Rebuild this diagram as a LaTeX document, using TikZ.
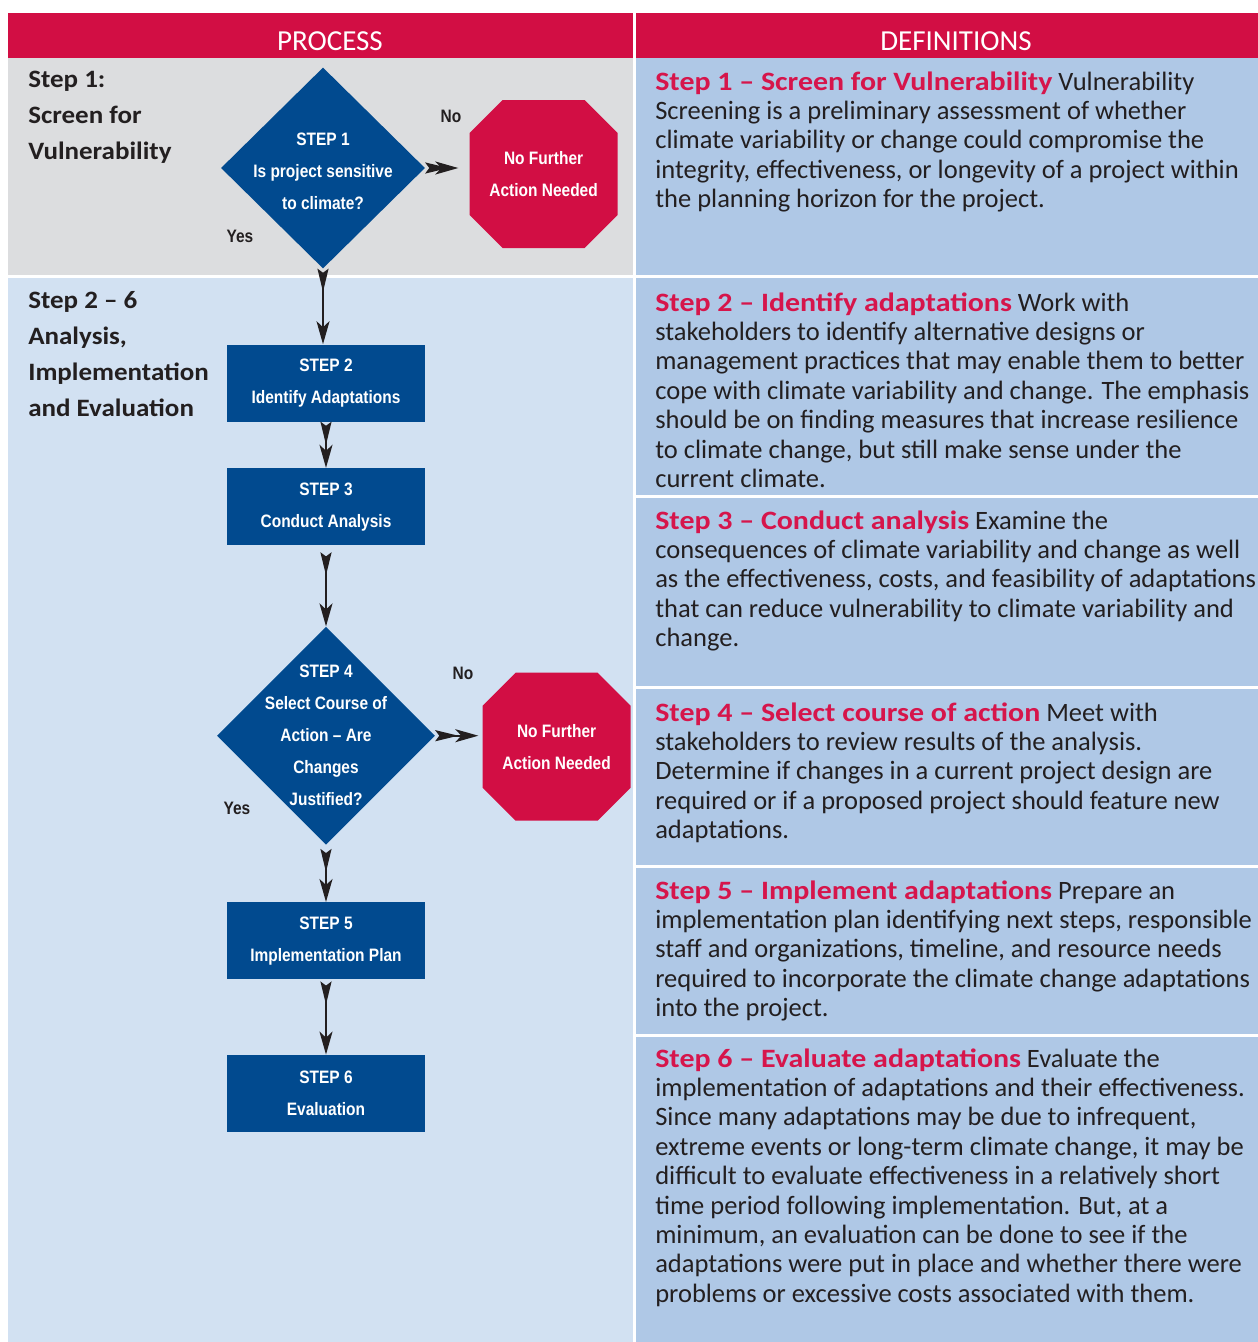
\documentclass[tikz,border=0pt]{standalone}
\usepackage{fontspec}
\setmainfont{Carlito}
\newfontfamily\flowfont[FakeStretch=0.86]{Liberation Sans}
\newfontfamily\widefont[FakeStretch=1.13]{Carlito}
\newfontfamily\phasefont[FakeStretch=1.08]{Carlito}
\usetikzlibrary{shapes.geometric,arrows.meta,positioning}

\definecolor{headred}{HTML}{D20E44}
\definecolor{stepblue}{HTML}{014A8F}
\definecolor{greyrow}{HTML}{DCDDDF}
\definecolor{paleblue}{HTML}{D2E1F2}
\definecolor{defblue}{HTML}{AFC8E6}
\definecolor{inkgrey}{HTML}{231F20}
\definecolor{steptitle}{HTML}{D6154B}

\newcommand{\deftext}[2]{\parbox[t]{620pt}{\raggedright\fontsize{26.5}{29.4}\selectfont\noindent\color{inkgrey}{\widefont\bfseries\color{steptitle}#1} #2}}
\newcommand{\phasetext}[1]{\parbox[t]{250pt}{\raggedright\fontsize{25}{36}\selectfont\noindent\phasefont\bfseries\color{inkgrey}#1}}

\begin{document}
\begin{tikzpicture}[x=1pt,y=-1pt,semithick,
  >={Stealth[length=23pt,width=13pt,inset=6pt]},
  flow/.style={{Stealth[reversed,length=23pt,width=11pt,inset=4pt]}->,line width=2pt,draw=inkgrey},
  stepbox/.style={rectangle,fill=stepblue,text=white,minimum width=198pt,minimum height=77pt,inner sep=0pt,align=center,font=\flowfont\bfseries\fontsize{18}{32}\selectfont},
  decision/.style={diamond,fill=stepblue,inner sep=0pt},
  dtext/.style={text=white,align=center,inner sep=0pt,font=\flowfont\bfseries\fontsize{18}{32}\selectfont},
  stop/.style={rectangle,text=white,minimum width=148pt,minimum height=148pt,inner sep=0pt,align=center,font=\flowfont\bfseries\fontsize{18}{32}\selectfont,
    path picture={\fill[headred] ([xshift=33pt]path picture bounding box.north west) -- ([xshift=-33pt]path picture bounding box.north east)
      -- ([yshift=-33pt]path picture bounding box.north east) -- ([yshift=33pt]path picture bounding box.south east)
      -- ([xshift=-33pt]path picture bounding box.south east) -- ([xshift=33pt]path picture bounding box.south west)
      -- ([yshift=33pt]path picture bounding box.south west) -- ([yshift=-33pt]path picture bounding box.north west) -- cycle;}},
  answer/.style={text=inkgrey,inner sep=0pt,font=\flowfont\bfseries\fontsize{18}{20}\selectfont},
  headtxt/.style={text=white,inner sep=0pt,font=\fontsize{29}{30}\selectfont},
  deftxt/.style={inner sep=0pt,anchor=base west}]
\useasboundingbox (0,0) rectangle (1258,1342);

\fill[headred] (8,13) rectangle (633,58);
\fill[headred] (636,13) rectangle (1258,58);
\fill[greyrow] (8,58) rectangle (633,275);
\fill[paleblue] (8,278) rectangle (633,1342);
\fill[defblue] (636,58) rectangle (1258,1342);
\foreach \y in {275,495,686,865,1034}
  \fill[white] (636,\y) rectangle (1258,\y+3);

\node[headtxt,anchor=base] (process) at (330,50) {PROCESS};
\node[headtxt,anchor=base] (definitions) at (956,50) {DEFINITIONS};

\node[deftxt] (phase1) at (28,87) {\phasetext{Step 1:\\Screen for\\Vulnerability}};
\node[deftxt] (phase2) at (28,308) {\phasetext{Step 2 – 6\\Analysis,\\Implementation\\and Evaluation}};

\node[decision,minimum width=204pt,minimum height=201pt,
  label={[dtext,yshift=-3pt]center:{STEP 1\\Is project sensitive\\to climate?}}] (s1) at (323,168) {};
\node[stepbox] (s2) at (326,383) {STEP 2\\Identify Adaptations};
\node[stepbox] (s3) [below=46pt of s2] {STEP 3\\Conduct Analysis};
\node[decision,minimum width=218pt,minimum height=218pt,
  label={[dtext]center:{STEP 4\\Select Course of\\Action – Are\\Changes\\Justified?}}] (s4) [below=81pt of s3] {};
\node[stepbox] (s5) [below=57pt of s4] {STEP 5\\Implementation Plan};
\node[stepbox] (s6) [below=75pt of s5] {STEP 6\\Evaluation};
\node[stop] (stop1) [right=44pt of s1,yshift=-6pt] {No Further\\Action Needed};
\node[stop] (stop2) [right=47pt of s4,yshift=-11pt] {No Further\\Action Needed};

\node[answer] (no1) at (451,116) {No};
\node[answer] (yes1) at (240,236) {Yes};
\node[answer] (no2) at (463,673) {No};
\node[answer] (yes2) at (237,808) {Yes};

\draw[flow] (s1.south) -- (s1.south |- s2.north);
\draw[flow] (s2) -- (s3);
\draw[flow,shorten <=7pt] (s3) -- (s4);
\draw[flow,shorten <=4pt] (s4) -- (s5);
\draw[flow,shorten <=2pt] (s5) -- (s6);
\draw[flow,shorten >=11pt] (s1.east) -- (s1.east -| stop1.west);
\draw[flow,shorten >=4pt] (s4.east) -- (s4.east -| stop2.west);

\node[deftxt] (def1) at (655,90) {\deftext{Step 1 – Screen for Vulnerability}{Vulnerability\\Screening is a preliminary assessment of whether\\climate variability or change could compromise the\\integrity, effectiveness, or longevity of a project within\\the planning horizon for the project.}};
\node[deftxt] (def2) at (655,311) {\deftext{Step 2 – Identify adaptations}{Work with\\stakeholders to identify alternative designs or\\management practices that may enable them to better\\cope with climate variability and change. The emphasis\\should be on finding measures that increase resilience\\to climate change, but still make sense under the\\current climate.}};
\node[deftxt] (def3) at (655,529) {\deftext{Step 3 – Conduct analysis}{Examine the\\consequences of climate variability and change as well\\as the effectiveness, costs, and feasibility of adaptations\\that can reduce vulnerability to climate variability and\\change.}};
\node[deftxt] (def4) at (655,721) {\deftext{Step 4 – Select course of action}{Meet with\\stakeholders to review results of the analysis.\\Determine if changes in a current project design are\\required or if a proposed project should feature new\\adaptations.}};
\node[deftxt] (def5) at (655,899) {\deftext{Step 5 – Implement adaptations}{Prepare an\\implementation plan identifying next steps, responsible\\staff and organizations, timeline, and resource needs\\required to incorporate the climate change adaptations\\into the project.}};
\node[deftxt] (def6) at (655,1067) {\deftext{Step 6 – Evaluate adaptations}{Evaluate the\\implementation of adaptations and their effectiveness.\\Since many adaptations may be due to infrequent,\\extreme events or long-term climate change, it may be\\difficult to evaluate effectiveness in a relatively short\\time period following implementation. But, at a\\minimum, an evaluation can be done to see if the\\adaptations were put in place and whether there were\\problems or excessive costs associated with them.}};
\end{tikzpicture}
\end{document}
